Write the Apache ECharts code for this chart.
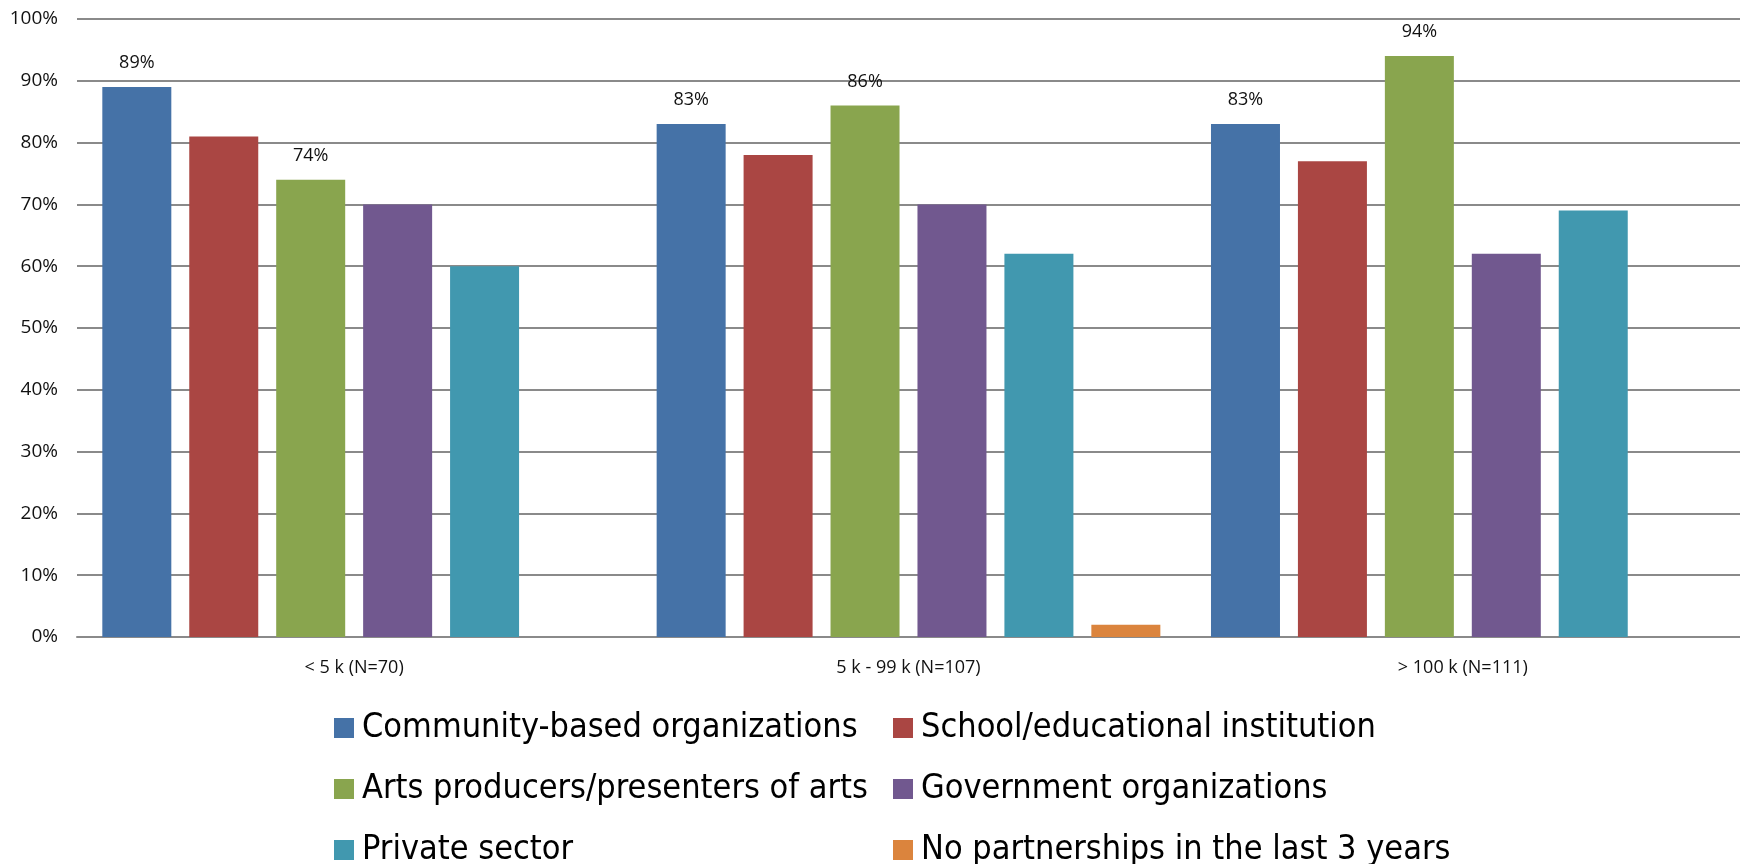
<!DOCTYPE html>
<html>
<head>
<meta charset="utf-8">
<script src="https://cdn.jsdelivr.net/npm/echarts@6/dist/echarts.min.js"></script>
<style>
  html, body { margin: 0; padding: 0; background: #fff; }
  #chart { width: 1740px; height: 864px; }
</style>
</head>
<body>
<div id="chart"></div>
<script>
// categories (x axis)
var categories = ['< 5 k (N=70)', '5 k - 99 k (N=107)', '> 100 k (N=111)'];

// series names
var seriesNames = [
  'Community-based organizations',
  'School/educational institution',
  'Arts producers/presenters of arts',
  'Government organizations',
  'Private sector',
  'No partnerships in the last 3 years'
];

// values in percent, one array per series
var community = [89, 83, 83];
var school = [81, 78, 77];
var arts = [74, 86, 94];
var government = [70, 70, 62];
var privateSector = [60, 62, 69];
var noPartner = [0, 2, 0];

var yTicks = [0, 10, 20, 30, 40, 50, 60, 70, 80, 90, 100];

var colors = ['#4572A7', '#AA4643', '#89A54E', '#71588F', '#4198AF', '#DB843D'];
var dataList = [community, school, arts, government, privateSector, noPartner];
var showLabel = [true, false, true, false, false, false];

var legendFont = '"Liberation Sans Narrow", "DejaVu Sans Condensed", "Open Sans", sans-serif';
var smallFont = '"Open Sans", sans-serif';

var myChart = echarts.init(document.getElementById('chart'), null, { renderer: 'canvas' });

var series = [];
for (var i = 0; i < seriesNames.length; i++) {
  series.push({
    name: seriesNames[i],
    type: 'bar',
    data: dataList[i],
    barWidth: 69,
    barGap: '26%',
    itemStyle: { color: colors[i] },
    label: {
      show: showLabel[i],
      position: 'top',
      distance: 15,
      formatter: '{c}%',
      fontFamily: smallFont,
      fontSize: 18,
      color: '#111'
    }
  });
}

function makeLegend(left, names) {
  return {
    orient: 'vertical',
    left: left,
    top: 706,
    height: 160,
    itemWidth: 20,
    itemHeight: 20,
    itemGap: 27,
    icon: 'rect',
    data: names,
    textStyle: { fontFamily: legendFont, fontSize: 34, lineHeight: 34, color: '#000', padding: [0, 0, 0, 3] }
  };
}

var option = {
  animation: false,
  color: colors,
  grid: { left: 77, right: 0, top: 19, bottom: 227, containLabel: false },
  legend: [
    makeLegend(329, [seriesNames[0], seriesNames[2], seriesNames[4]]),
    makeLegend(888, [seriesNames[1], seriesNames[3], seriesNames[5]])
  ],
  xAxis: {
    type: 'category',
    data: categories,
    axisLine: { show: true, lineStyle: { color: '#8a8a8a', width: 2 } },
    axisTick: { show: false },
    axisLabel: { margin: 22, fontFamily: smallFont, fontSize: 18, color: '#111' }
  },
  yAxis: {
    type: 'value',
    min: yTicks[0],
    max: yTicks[yTicks.length - 1],
    interval: 10,
    axisLine: { show: false },
    axisTick: { show: false },
    splitLine: { lineStyle: { color: '#8a8a8a', width: 2 } },
    axisLabel: { margin: 19, formatter: '{value}%', fontFamily: smallFont, fontSize: 19, color: '#111' }
  },
  series: series
};

myChart.setOption(option, true);
</script>
</body>
</html>
